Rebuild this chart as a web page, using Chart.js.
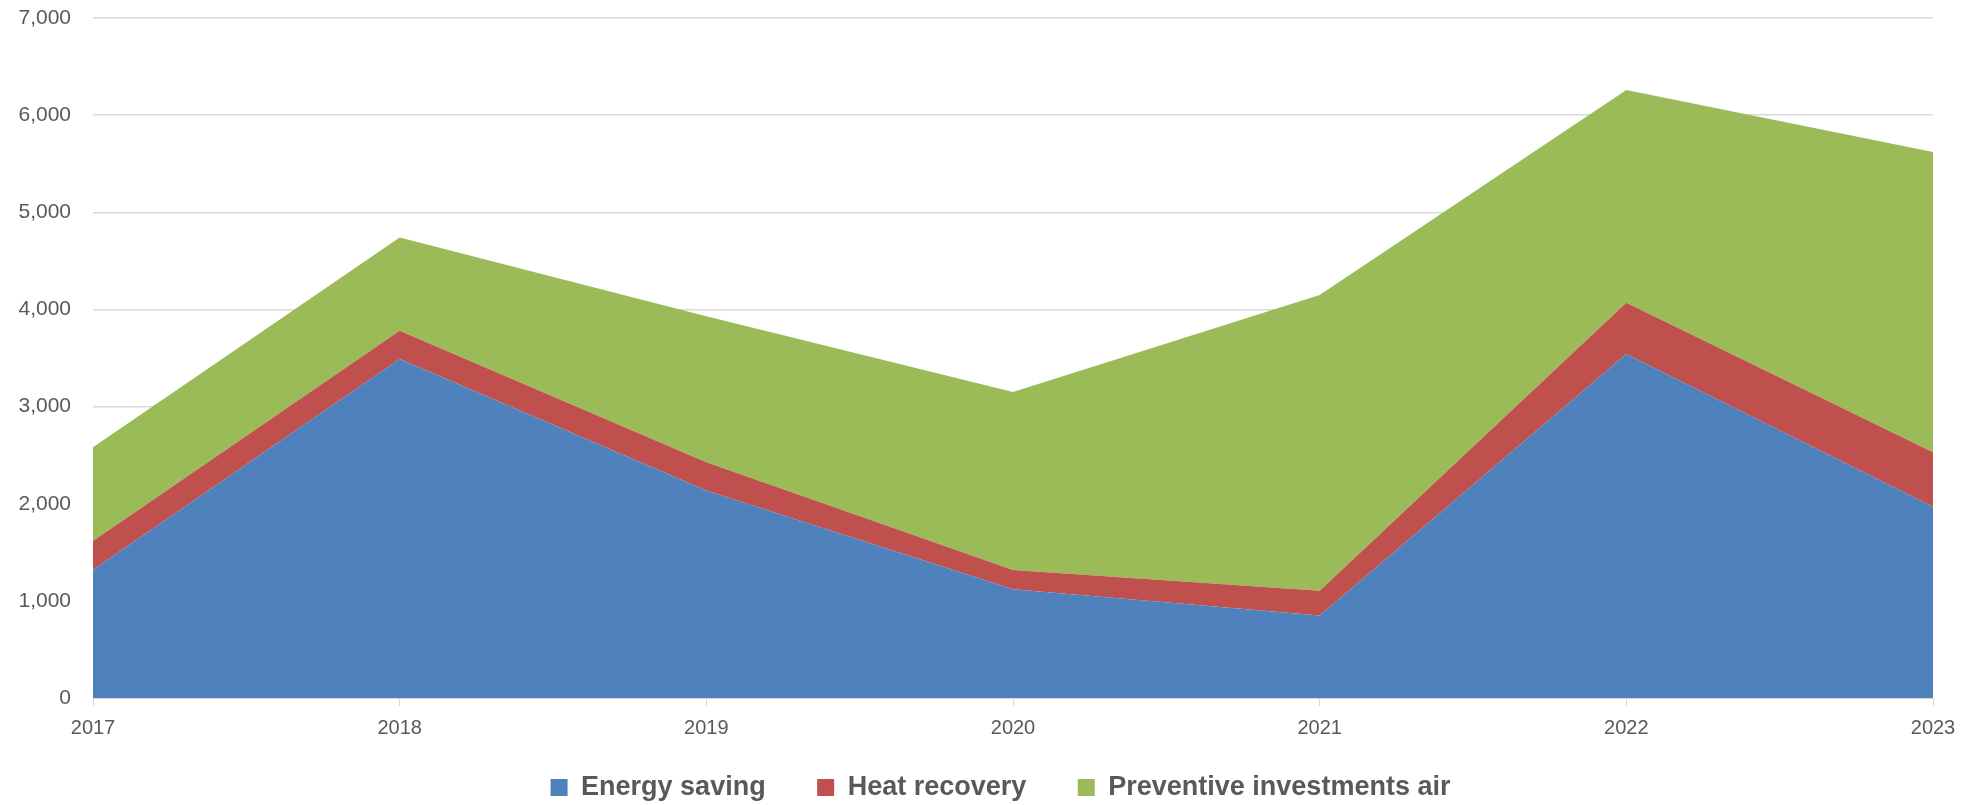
<!DOCTYPE html>
<html>
<head>
<meta charset="utf-8">
<script src="https://cdn.jsdelivr.net/npm/chart.js@4/dist/chart.umd.min.js"></script>
<style>
  html, body { margin: 0; padding: 0; background: #fff; }
  #wrap { width: 1972px; height: 805px; }
</style>
</head>
<body>
<div id="wrap"><canvas id="grafico"></canvas></div>
<script>
const years = ["2017", "2018", "2019", "2020", "2021", "2022", "2023"];
const energySaving = [1320, 3490, 2135, 1120, 850, 3540, 1970];
const heatRecovery = [295, 290, 292, 198, 254, 530, 560];
const preventiveAir = [965, 960, 1503, 1833, 3045, 2190, 3090];

const gris = "#595959";
const lineas = "#d9d9d9";

function serie(label, data, color, fill) {
  return { label, data, backgroundColor: color, borderColor: color, borderWidth: 0,
           pointRadius: 0, fill, tension: 0 };
}

// la leyenda del original queda algo a la derecha del centro
const moverLeyenda = {
  id: "moverLeyenda",
  afterLayout(chart) {
    if (chart.legend) { chart.legend.left += 34; chart.legend.right += 34; }
  }
};

const ctx = document.getElementById("grafico").getContext("2d");
new Chart(ctx, {
  type: "line",
  data: {
    labels: years,
    datasets: [
      serie("Energy saving", energySaving, "#4F81BD", "origin"),
      serie("Heat recovery", heatRecovery, "#C0504D", "-1"),
      serie("Preventive investments air", preventiveAir, "#9BBB59", "-1")
    ]
  },
  plugins: [moverLeyenda],
  options: {
    responsive: true,
    maintainAspectRatio: false,
    animation: false,
    layout: { padding: { top: 18, right: 39, left: 0, bottom: -6 } },
    plugins: {
      tooltip: { enabled: false },
      legend: {
        position: "bottom",
        labels: {
          boxWidth: 17, boxHeight: 17, padding: 29, color: gris,
          font: { family: "Liberation Sans", size: 27, weight: "bold" },
          // un poco más de aire entre elementos sin inflar la altura
          generateLabels: chart => {
            const base = Chart.defaults.plugins.legend.labels.generateLabels(chart);
            base.forEach((it, i) => { if (i < base.length - 1) it.text += "   "; });
            return base;
          }
        }
      }
    },
    scales: {
      x: {
        offset: false,
        grid: { drawOnChartArea: false, drawTicks: true, tickLength: 8, color: lineas },
        border: { color: lineas },
        ticks: { color: gris, padding: 10, maxRotation: 0, font: { family: "Liberation Sans", size: 20 } },
        afterFit: s => { s.height = 47; }
      },
      y: {
        stacked: true,
        min: 0, max: 7000,
        ticks: { stepSize: 1000, color: gris, padding: 22,
                 font: { family: "Liberation Sans", size: 21 },
                 callback: v => v.toLocaleString("en-US") },
        grid: { color: lineas, lineWidth: 1.5, drawTicks: false },
        border: { display: false },
        afterFit: s => { s.width = 93; s.paddingTop = 0; s.paddingBottom = 0; }
      }
    }
  }
});
</script>
</body>
</html>
